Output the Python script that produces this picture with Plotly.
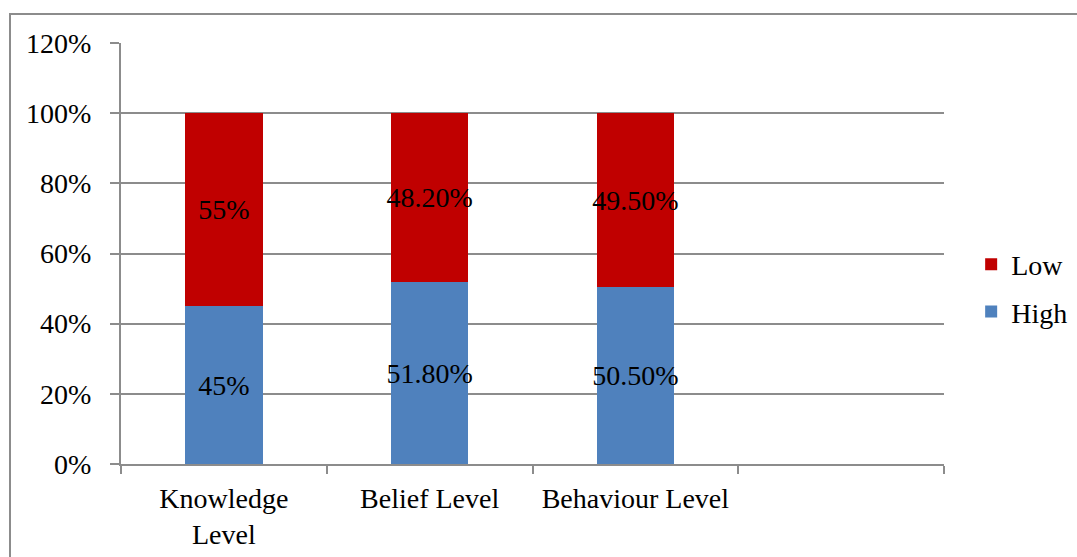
import plotly.graph_objects as go

# Categories (fourth slot is intentionally empty)
categories = ["Knowledge<br>Level", "Belief Level", "Behaviour Level", " "]
high_values = [45.0, 51.8, 50.5]
low_values = [55.0, 48.2, 49.5]
high_labels = ["45%", "51.80%", "50.50%"]
low_labels = ["55%", "48.20%", "49.50%"]
y_ticks = [0, 20, 40, 60, 80, 100, 120]
y_tick_labels = ["0%", "20%", "40%", "60%", "80%", "100%", "120%"]

FONT = "Liberation Serif, Times New Roman, serif"
GRAY = "#8c8c8c"
FS = 28

fig = go.Figure()
fig.add_trace(go.Bar(
    x=categories[:3], y=high_values, name="High", legendgroup="high", legendrank=2,
    marker=dict(color="#4f81bd", line=dict(width=0)),
    text=high_labels, textposition="inside", insidetextanchor="middle",
    constraintext="none", textangle=0,
    textfont=dict(family=FONT, size=FS, color="black"),
    width=0.377,
))
fig.add_trace(go.Bar(
    x=categories[:3], y=low_values, name="Low", legendgroup="low", legendrank=1,
    marker=dict(color="#c00000", line=dict(width=0)),
    text=low_labels, textposition="inside", insidetextanchor="middle",
    constraintext="none", textangle=0,
    textfont=dict(family=FONT, size=FS, color="black"),
    width=0.377,
))

fig.update_layout(
    width=1077, height=557,
    margin=dict(l=121, r=133, t=43, b=93, pad=0, autoexpand=False),
    barmode="stack",
    paper_bgcolor="white", plot_bgcolor="white",
    font=dict(family=FONT, size=FS, color="black"),
    showlegend=True,
    legend=dict(
        x=1.033, y=0.418, xanchor="left", yanchor="middle",
        traceorder="grouped", tracegroupgap=8,
        font=dict(family=FONT, size=FS, color="black"),
        bgcolor="rgba(0,0,0,0)", itemwidth=30,
    ),
    xaxis=dict(
        type="category", categoryorder="array", categoryarray=categories,
        range=[-0.5, 3.5], tickson="boundaries",
        ticks="outside", ticklen=8, tickcolor=GRAY, tickwidth=2,
        showline=True, linecolor=GRAY, linewidth=2,
        showgrid=False, zeroline=False, ticklabelstandoff=8,
        tickfont=dict(family=FONT, size=FS, color="black"),
    ),
    yaxis=dict(
        range=[0, 120], tickvals=y_ticks, ticktext=y_tick_labels,
        ticks="outside", ticklen=9, tickcolor=GRAY, tickwidth=2,
        showline=True, linecolor=GRAY, linewidth=2,
        showgrid=True, gridcolor=GRAY, gridwidth=2,
        zeroline=False, ticklabelstandoff=13,
        tickfont=dict(family=FONT, size=FS, color="black"),
    ),
    shapes=[dict(
        type="rect", xref="paper", yref="paper",
        x0=(10 - 121) / 823, x1=2.0, y0=-0.6, y1=(464 - 14) / 421,
        line=dict(color=GRAY, width=2), fillcolor="rgba(0,0,0,0)", layer="below",
    )],
)

fig.write_html("out.html")
